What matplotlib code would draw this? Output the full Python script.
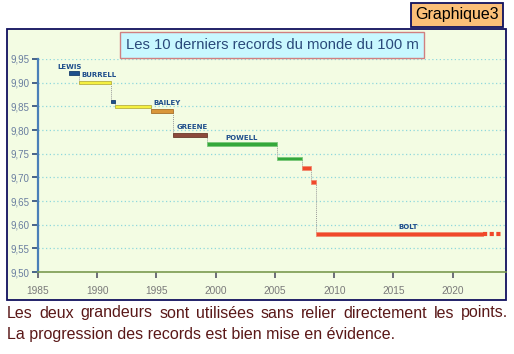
import matplotlib
matplotlib.use("Agg")
import matplotlib.pyplot as plt
import matplotlib.patches as patches
from matplotlib.ticker import FuncFormatter, MultipleLocator

plt.rcParams['font.family'] = ['Liberation Sans', 'DejaVu Sans']

# record times (s) and the years each one held
times = [9.92, 9.90, 9.86, 9.85, 9.84, 9.79, 9.77, 9.74, 9.72, 9.69, 9.58]
starts = [1987.6, 1988.5, 1991.2, 1991.5, 1994.5, 1996.4, 1999.3, 2005.2, 2007.3, 2008.0, 2008.5]
ends = [1988.5, 1991.2, 1991.5, 1994.5, 1996.4, 1999.3, 2005.2, 2007.3, 2008.0, 2008.5, 2022.6]
bar_colors = ['#1d4f8c', '#f4f040', '#1d4f8c', '#f4f040', '#d9963a', '#8c4a3c',
              '#34a83a', '#34a83a', '#f0482a', '#f0482a', '#f0482a']
edge_colors = ['#163c6c', '#b8b040', '#163c6c', '#b8b040', '#a8702a', '#6a3a2c',
               '#7ac87a', '#7ac87a', '#f08a70', '#f08a70', '#f08a70']
still_held_until = 2024.2

names = ['LEWIS', 'BURRELL', 'BAILEY', 'GREENE', 'POWELL', 'BOLT']
name_x = [1986.6, 1988.7, 1994.7, 1996.7, 2000.8, 2015.4]
name_y = [9.926, 9.909, 9.850, 9.799, 9.777, 9.588]

year_ticks = [1985, 1990, 1995, 2000, 2005, 2010, 2015, 2020]

caption1 = 'Les deux grandeurs sont utilisées sans relier directement les points.'
caption2 = 'La progression des records est bien mise en évidence.'

W, H = 514, 354
fig = plt.figure(figsize=(W / 100, H / 100), dpi=100)
fig.patch.set_facecolor('white')

def fx(px):
    return px / W

def fy(py):
    return 1 - py / H

# chart panel
panel = patches.Rectangle((fx(7), fy(300)), fx(499), 271 / H, transform=fig.transFigure,
                          facecolor='#f3fce3', edgecolor='#10105e', lw=1.3, zorder=-1)
fig.patches.append(panel)

ax = fig.add_axes([fx(38), fy(272), fx(468), (272 - 59) / H])
ax.set_facecolor('none')
ax.set_xlim(1985, 2024.5)
ax.set_ylim(9.50, 9.95)

for sp in ['top', 'right']:
    ax.spines[sp].set_visible(False)
ax.spines['left'].set_color('#4a7fb8')
ax.spines['left'].set_linewidth(1.6)
ax.spines['bottom'].set_color('#7a9a50')
ax.spines['bottom'].set_linewidth(1.2)

ax.yaxis.set_major_locator(MultipleLocator(0.05))
ax.yaxis.set_major_formatter(FuncFormatter(lambda v, p: f"{v:.2f}".replace('.', ',')))
ax.set_xticks(year_ticks)
ax.tick_params(axis='y', direction='out', length=4, width=1.2, color='#2a4a7a',
               labelsize=7, labelcolor='#6a7ea0', pad=2)
ax.tick_params(axis='x', direction='out', length=4, width=1.2, color='#556',
               labelsize=7.3, labelcolor='#7a7a7a', pad=6)

ax.grid(axis='y', linestyle=(0, (1, 2)), color='#8fd8dc', lw=0.9)
ax.set_axisbelow(True)

# record bars
for t, s, e, c, ec in zip(times, starts, ends, bar_colors, edge_colors):
    ax.barh(t, e - s, left=s, height=0.0075, color=c, edgecolor=ec, lw=0.6, zorder=3)

# dotted drops between records
for i in range(len(times) - 1):
    ax.vlines(ends[i], times[i + 1], times[i], colors='#9a9a9a', linestyles=(0, (1, 1)),
              lw=0.7, zorder=2)

# record still standing
ax.hlines(times[-1], ends[-1], still_held_until, colors='#f0482a', linestyles=(0, (1, 0.6)),
          lw=3, zorder=3)

for n, x, y in zip(names, name_x, name_y):
    ax.text(x, y, n, fontsize=5, fontweight='bold', color='#1f4e8c', ha='left', va='bottom',
            family='DejaVu Sans', zorder=4)

# title box
fig.text(fx(272), fy(45), 'Les 10 derniers records du monde du 100 m', fontsize=10.7,
         color='#2a4a7a', ha='center', va='center',
         bbox=dict(boxstyle='square,pad=0.38', facecolor='#c8f8ff', edgecolor='#d08080', lw=1))

# tag box
fig.text(fx(457), fy(15), 'Graphique3', fontsize=11.5, color='black', ha='center', va='center',
         bbox=dict(boxstyle='square,pad=0.28', facecolor='#fbbf78', edgecolor='#10105e', lw=1.3))

# caption: first line justified across the width, second line left aligned
renderer = fig.canvas.get_renderer()
words = caption1.split()
word_w = []
for w in words:
    t = fig.text(0, 0, w, fontsize=11.5)
    word_w.append(t.get_window_extent(renderer).width)
    t.remove()
gap = (508 - 7 - sum(word_w)) / (len(words) - 1)
xp = 7
for w, ww in zip(words, word_w):
    fig.text(fx(xp), fy(317.5), w, fontsize=11.5, color='#5a1818', ha='left', va='baseline')
    xp += ww + gap
fig.text(fx(7), fy(339.5), caption2, fontsize=11.5, color='#5a1818', ha='left', va='baseline')

fig.savefig('out.png', dpi=100)
